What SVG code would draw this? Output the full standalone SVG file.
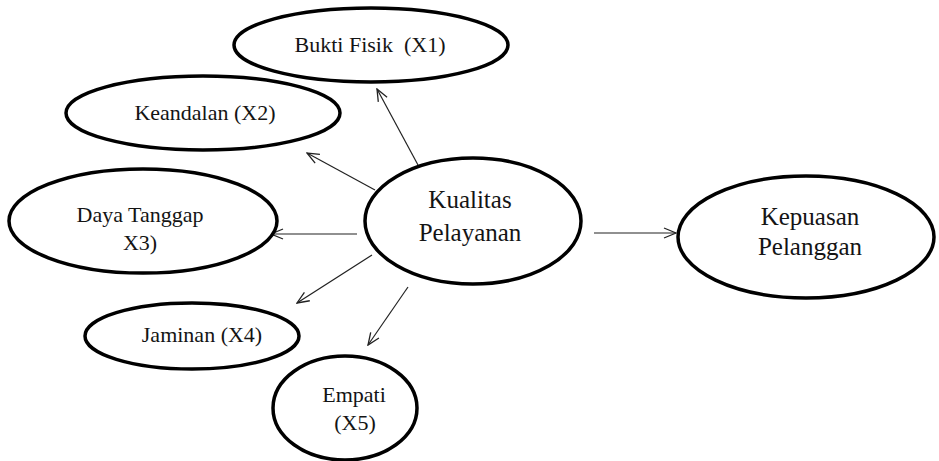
<svg xmlns="http://www.w3.org/2000/svg" width="939" height="461" viewBox="0 0 939 461">
<style>
.node ellipse{fill:#fff;stroke:#000;stroke-width:3.5}
.node text{font-family:"Liberation Serif","Times New Roman",serif;fill:#141414;text-anchor:middle;font-size:22px}
.node text.big{font-size:25px}
#connectors line{stroke:#222;stroke-width:1.2;fill:none;marker-end:url(#arr)}
</style>
<defs>
<marker id="arr" viewBox="0 0 14 12" refX="13" refY="6" markerWidth="14" markerHeight="12" markerUnits="userSpaceOnUse" orient="auto">
<path d="M1,1 L13,6 L1,11" fill="none" stroke="#222" stroke-width="1.3"/>
</marker>
</defs>
<rect width="939" height="461" fill="#fff"/>
<g id="connectors">
<line x1="418" y1="165" x2="377" y2="89"/>
<line x1="375" y1="190" x2="307" y2="153"/>
<line x1="357" y1="234" x2="271" y2="234"/>
<line x1="372" y1="255" x2="297" y2="303"/>
<line x1="408" y1="287" x2="368" y2="345"/>
<line x1="594" y1="233" x2="676" y2="233"/>
</g>
<g id="x1" class="node">
<ellipse cx="371" cy="45" rx="137" ry="37"/>
<text x="370" y="52" xml:space="preserve">Bukti Fisik  (X1)</text>
</g>
<g id="x2" class="node">
<ellipse cx="203" cy="113" rx="137" ry="37"/>
<text x="205" y="120">Keandalan (X2)</text>
</g>
<g id="x3" class="node">
<ellipse cx="143" cy="221" rx="134" ry="52"/>
<text x="140" y="222">Daya Tanggap</text>
<text x="140" y="250">X3)</text>
</g>
<g id="x4" class="node">
<ellipse cx="192" cy="336" rx="107" ry="33"/>
<text x="202" y="342">Jaminan (X4)</text>
</g>
<g id="x5" class="node">
<ellipse cx="345" cy="408" rx="72" ry="52"/>
<text x="354" y="402">Empati</text>
<text x="355" y="430">(X5)</text>
</g>
<g id="kualitas" class="node">
<ellipse cx="473" cy="221" rx="108" ry="63"/>
<text class="big" x="470" y="208">Kualitas</text>
<text class="big" x="470" y="241">Pelayanan</text>
</g>
<g id="kepuasan" class="node">
<ellipse cx="806" cy="237" rx="128" ry="61"/>
<text class="big" x="810" y="225">Kepuasan</text>
<text class="big" x="810" y="255">Pelanggan</text>
</g>
</svg>
